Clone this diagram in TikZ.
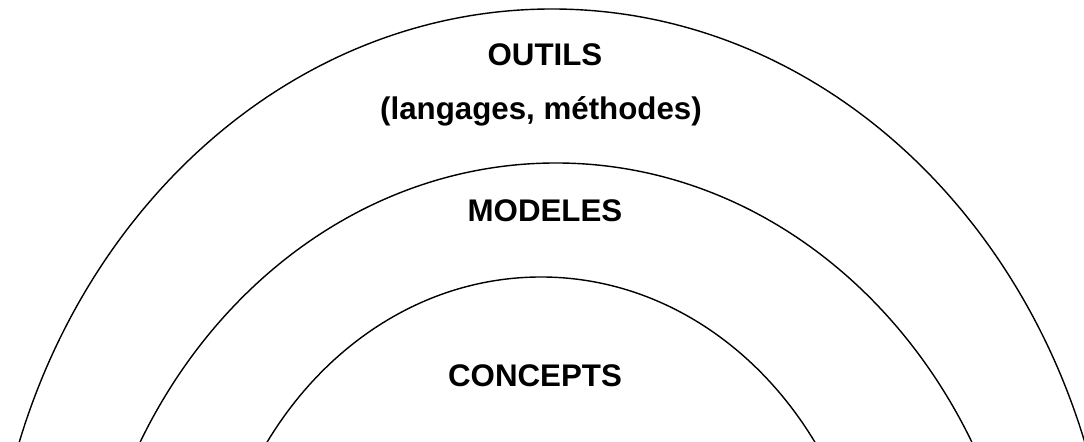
\documentclass[tikz,border=0pt]{standalone}
\usepackage{fontspec}
\setmainfont{Liberation Sans}
\usepackage{tikz}

\begin{document}
\begin{tikzpicture}[lbl/.style={inner sep=0pt, anchor=base, font=\bfseries\fontsize{8.9}{10.7}\selectfont}]
\useasboundingbox (0, 0) rectangle (10.84, 4.42);
\clip (0, 0) rectangle (10.84, 4.42);

\draw (5.52, -2.08) ellipse [x radius=5.63cm, y radius=6.41cm];
\draw (5.56, -2.58) ellipse [x radius=4.74cm, y radius=5.37cm];
\draw (5.41, -2.18) ellipse [x radius=3.33cm, y radius=3.83cm];

\node[lbl] (outils) at (5.45, 3.76) {OUTILS};
\node[lbl] (langages) at (5.41, 3.22) {(langages, méthodes)};
\node[lbl] (modeles) at (5.45, 2.20) {MODELES};
\node[lbl] (concepts) at (5.35, 0.55) {CONCEPTS};

\end{tikzpicture}
\end{document}
